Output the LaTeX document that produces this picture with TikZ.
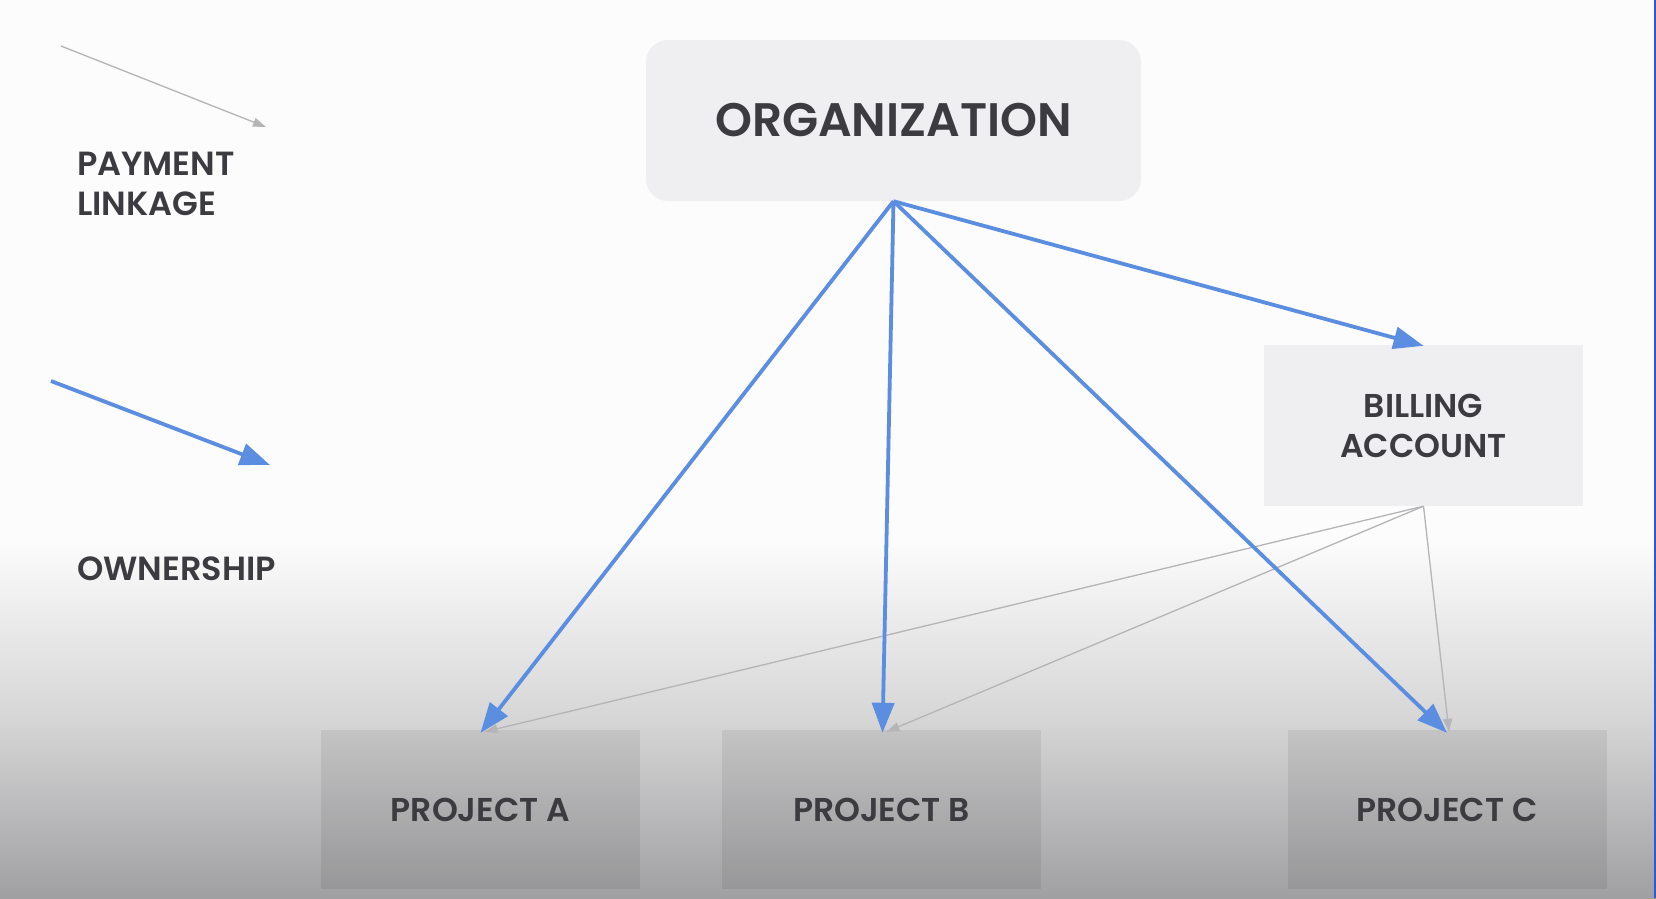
\documentclass[tikz,border=0pt]{standalone}
\usepackage{fontspec}
\setmainfont{Poppins}[BoldFont={Poppins SemiBold}]
\usetikzlibrary{arrows.meta}
\definecolor{txt}{HTML}{3C3C40}
\definecolor{boxlight}{HTML}{EFEFF1}
\definecolor{own}{HTML}{5B8DE0}
\definecolor{pay}{HTML}{B5B5B8}
\definecolor{stripe}{HTML}{2A5BD0}
\definecolor{bgtop}{HTML}{FCFCFD}
\definecolor{bgmid}{HTML}{D6D6D7}
\definecolor{bgbot}{HTML}{A0A0A2}
\tikzset{
  label text/.style={text=txt, font=\bfseries\fontsize{33.5}{40}\selectfont, inner sep=0pt},
  orgbox/.style={fill=boxlight, rounded corners=22pt, minimum width=495pt, minimum height=161pt,
    text=txt, font=\bfseries\fontsize{47}{54}\selectfont, inner sep=0pt},
  billbox/.style={fill=boxlight, minimum width=319pt, minimum height=161pt, align=center,
    text=txt, font=\bfseries\fontsize{33}{40}\selectfont, inner sep=0pt},
  projbox/.style={fill=black, fill opacity=0.07, text opacity=1, minimum width=319pt, minimum height=159pt,
    text=txt, font=\bfseries\fontsize{33}{40}\selectfont, inner sep=0pt},
  ownarrow/.style={draw=own, line width=3.8pt, -{Triangle[length=30pt,width=22pt]}},
  payarrow/.style={draw=pay, line width=1.3pt, -{Triangle[length=13pt,width=9pt]}}
}
\begin{document}
\begin{tikzpicture}[x=1pt,y=-1pt]
\useasboundingbox (0,0) rectangle (1656,898);
\fill[bgtop] (0,0) rectangle (1656,898);
\shade[top color=bgtop, bottom color=bgbot, middle color=bgmid] (0,540) rectangle (1656,898);
\fill[stripe] (1653.5,0) rectangle (1656,898);

% legend
\coordinate (l1s) at (61,46);
\coordinate (l1e) at (266,127);
\coordinate (l2s) at (51,381);
\coordinate (l2e) at (270,465);
\draw[payarrow] (l1s) -- (l1e);
\draw[ownarrow] (l2s) -- (l2e);
\node[label text, anchor=west, align=left] (paylbl) at (77,184) {PAYMENT\\LINKAGE};
\node[label text, anchor=west] (ownlbl) at (77,569) {OWNERSHIP};

% boxes
\node[orgbox] (org) at (893.5,120.5) {ORGANIZATION};
\node[billbox] (bill) at (1423.5,425.5) {BILLING\\ACCOUNT};
\node[projbox] (pa) at (480.5,809.5) {PROJECT A};
\node[projbox] (pb) at (881.5,809.5) {PROJECT B};
\node[projbox] (pc) at (1447,809.5) {PROJECT C};

% payment linkage
\draw[payarrow] (bill.south) -- ([xshift=4pt,yshift=-2pt]pa.north);
\draw[payarrow] (bill.south) -- ([xshift=5pt,yshift=-2pt]pb.north);
\draw[payarrow] (bill.south) -- ([xshift=2pt,yshift=-2pt]pc.north);

% ownership
\draw[ownarrow] (org.south) -- ([yshift=-3pt]pa.north);
\draw[ownarrow] (org.south) -- ([xshift=1pt,yshift=-3pt]pb.north);
\draw[ownarrow] (org.south) -- ([yshift=-3pt]pc.north);
\draw[ownarrow] (org.south) -- ([yshift=-1pt]bill.north);
\end{tikzpicture}
\end{document}
